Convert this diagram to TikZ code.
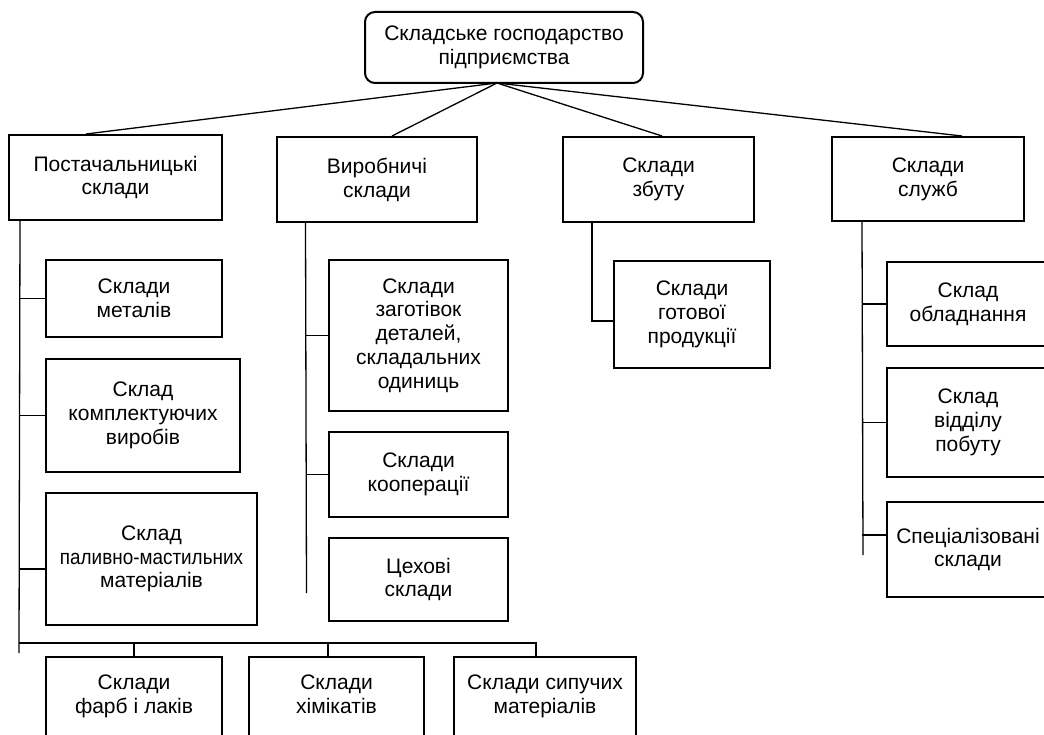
\documentclass[tikz,border=0pt]{standalone}
\usepackage{graphicx}
\usepackage{fontspec}
\setmainfont{Liberation Sans}
\usetikzlibrary{calc}
\newcommand\boxfont{\fontsize{21}{23.8}\selectfont}
\begin{document}
\begin{tikzpicture}[x=1pt,y=-1pt,
  box/.style={draw, line width=2pt, align=center, inner sep=0pt, font=\boxfont},
  txt/.style={align=center, inner sep=0pt, font=\boxfont},
  con/.style={line width=1.3pt}]
\clip (0,0) rectangle (1044,735);
\fill[white] (0,0) rectangle (1044,735);

% root
\node[box, rounded corners=10pt, minimum width=278pt, minimum height=71pt] (top) at (504,47.5) {Складське господарство\\підприємства};

% level 1
\node[box, minimum width=213pt, minimum height=85pt] (p1) at (115.5,177.5) {Постачальницькі\\склади};
\node[box, minimum width=200pt, minimum height=85pt] (p2) at (377,179.5) {Виробничі\\склади};
\node[box, minimum width=191pt, minimum height=85pt] (p3) at (658.5,179.5) {Склади\\збуту};
\node[box, minimum width=192pt, minimum height=84pt] (p4) at (928,179) {Склади\\служб};

% supplier warehouses
\node[box, minimum width=176pt, minimum height=77pt] (a1) at (134,298.5) {Склади\\металів};
\node[box, minimum width=194pt, minimum height=113pt] (a2) at (143,415.5) {Склад\\комплектуючих\\виробів};
\node[box, minimum width=211pt, minimum height=132pt] (a3) at (151.5,559) {Склад\\\scalebox{0.9}[1]{паливно-мастильних}\\матеріалів};

\node[box, minimum width=176pt, minimum height=100pt] (b1) at (134,707) {};
\node[txt, anchor=north] (b1t) at (134,675) {Склади\\фарб і лаків};
\node[box, minimum width=175pt, minimum height=100pt] (b2) at (336.5,707) {};
\node[txt, anchor=north] (b2t) at (336.5,675) {Склади\\хімікатів};
\node[box, minimum width=182pt, minimum height=100pt] (b3) at (545,707) {};
\node[txt, anchor=north] (b3t) at (545,675) {Склади сипучих\\матеріалів};

% production warehouses
\node[box, minimum width=179pt, minimum height=151pt] (m1) at (418.5,335.5) {Склади\\заготівок\\деталей,\\складальних\\одиниць};
\node[box, minimum width=179pt, minimum height=85pt] (m2) at (418.5,474.5) {Склади\\кооперації};
\node[box, minimum width=179pt, minimum height=83pt] (m3) at (418.5,579.5) {Цехові\\склади};

% sales
\node[box, minimum width=156pt, minimum height=107pt] (z1) at (692,314.5) {Склади\\готової\\продукції};

% services
\node[box, minimum width=162pt, minimum height=84pt] (s1) at (968,304) {Склад\\обладнання};
\node[box, minimum width=162pt, minimum height=109pt] (s2) at (968,422.5) {Склад\\відділу\\побуту};
\node[box, minimum width=162pt, minimum height=95pt] (s3) at (968,549.5) {Спеціалізовані\\склади};

% root connectors
\coordinate (hub) at (497,83);
\draw[con] (hub) -- ($(p1.north west)+(78,0)$);
\draw[con] (hub) -- ($(p2.north west)+(116,0)$);
\draw[con] (hub) -- ($(p3.north west)+(100,0)$);
\draw[con] (hub) -- ($(p4.north west)+(131,0)$);

% left spine
\coordinate (lt) at ($(p1.south west)+(12,0)$);
\coordinate (lb) at (19,653);
\coordinate (bar) at (537,643);
\draw[con] (lt) -- (lb);
\draw[con] (a1.west -| lt) -- (a1.west);
\draw[con] (a2.west -| lt) -- (a2.west);
\coordinate (a3c) at ($(a3.west)+(0,10)$);
\draw[con] (a3c -| lt) -- (a3c);
\draw[con] (lb |- bar) -- (bar);
\draw[con] (b1.north |- bar) -- (b1.north);
\coordinate (t2) at ($(b2.north west)+(80,0)$);
\draw[con] (t2 |- bar) -- (t2);
\coordinate (t3) at ($(b3.north west)+(83,0)$);
\draw[con] (t3 |- bar) -- (t3);

% middle spine
\coordinate (mt) at ($(p2.south west)+(29.5,0)$);
\coordinate (mb) at (306.5,593);
\draw[con] (mt) -- (mb);
\draw[con] (m1.west -| mt) -- (m1.west);
\draw[con] (m2.west -| mt) -- (m2.west);
\draw[con] ($(m3.west)+(0,3.5)$ -| mt) -- ($(m3.west)+(0,3.5)$);

% sales spine
\coordinate (zt) at ($(p3.south west)+(30,0)$);
\coordinate (zc) at ($(z1.west)+(0,6.5)$);
\draw[con] (zt) |- (zc);

% services spine
\coordinate (st) at ($(p4.south west)+(31,0)$);
\coordinate (sb) at (863,555);
\draw[con] (st) -- (sb);
\draw[con] (s1.west -| st) -- (s1.west);
\draw[con] (s2.west -| st) -- (s2.west);
\coordinate (s3c) at ($(s3.west)+(0,-14.5)$);
\draw[con] (s3c -| st) -- (s3c);
\end{tikzpicture}
\end{document}
